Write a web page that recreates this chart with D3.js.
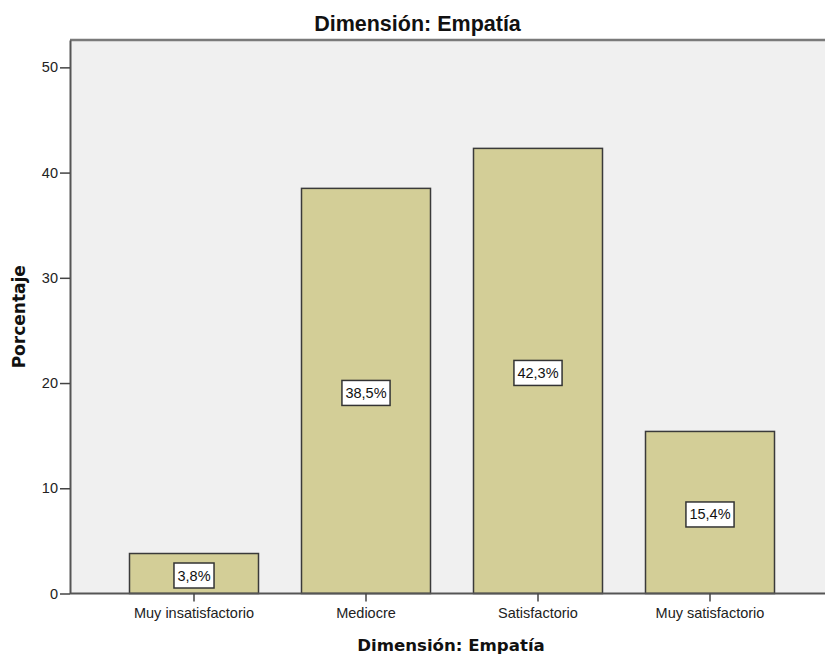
<!DOCTYPE html>
<html>
<head>
<meta charset="utf-8">
<script src="https://cdn.jsdelivr.net/npm/d3@7/dist/d3.min.js"></script>
<style>
  html, body { margin: 0; padding: 0; background: #ffffff; }
  svg { display: block; }
</style>
</head>
<body>
<svg id="chart" width="825" height="657"></svg>
<script>
// Percentage of responses per level, "Dimensión: Empatía"
const categories = ["Muy insatisfactorio", "Mediocre", "Satisfactorio", "Muy satisfactorio"];
const percentages = [3.8, 38.5, 42.3, 15.4];
const valueLabels = ["3,8%", "38,5%", "42,3%", "15,4%"];
const yTicks = [0, 10, 20, 30, 40, 50];

const chartTitle = "Dimensión: Empatía";
const xTitle = "Dimensión: Empatía";
const yTitle = "Porcentaje";

const svg = d3.select("#chart");

const plot = { left: 70, right: 834, top: 40, bottom: 593.5 };

const x = d3.scaleBand()
  .domain(categories)
  .range([108, 796])
  .paddingInner(0.25)
  .paddingOuter(0.125);

const y = d3.scaleLinear()
  .domain([0, 52.6])
  .range([plot.bottom, plot.top]);

// plot background
svg.append("rect")
  .attr("x", plot.left)
  .attr("y", plot.top)
  .attr("width", plot.right - plot.left)
  .attr("height", plot.bottom - plot.top)
  .attr("fill", "#f0f0f0");

// top frame line
svg.append("line")
  .attr("x1", plot.left).attr("x2", plot.right)
  .attr("y1", plot.top).attr("y2", plot.top)
  .attr("stroke", "#7a7a7a")
  .attr("stroke-width", 2.5);

// bars
const bars = svg.append("g");
bars.selectAll("rect")
  .data(categories)
  .join("rect")
  .attr("x", d => x(d))
  .attr("y", (d, i) => y(percentages[i]))
  .attr("width", x.bandwidth())
  .attr("height", (d, i) => y(0) - y(percentages[i]))
  .attr("fill", "#d3ce97")
  .attr("stroke", "#3a3a3a")
  .attr("stroke-width", 1.5);

// value labels in white boxes at mid-height of each bar
const labelFont = "14.5px 'Liberation Sans', Arial, sans-serif";
const labels = svg.append("g");
categories.forEach((c, i) => {
  const cx = x(c) + x.bandwidth() / 2;
  const cy = (y(percentages[i]) + y(0)) / 2 + 2;
  const g = labels.append("g");
  const t = g.append("text")
    .attr("x", cx)
    .attr("y", cy + 5)
    .attr("text-anchor", "middle")
    .style("font", labelFont)
    .attr("fill", "#111")
    .text(valueLabels[i]);
  const w = t.node().getComputedTextLength();
  g.insert("rect", "text")
    .attr("x", cx - w / 2 - 3.5)
    .attr("y", cy - 12.5)
    .attr("width", w + 7)
    .attr("height", 25)
    .attr("fill", "#ffffff")
    .attr("stroke", "#333")
    .attr("stroke-width", 1.5);
});

// y axis
const yAxis = svg.append("g")
  .attr("transform", `translate(${plot.left},0)`)
  .call(d3.axisLeft(y).tickValues(yTicks).tickSize(10).tickSizeOuter(0).tickPadding(2).tickFormat(d3.format("d")));
yAxis.select(".domain").attr("stroke", "#555").attr("stroke-width", 2);
yAxis.selectAll(".tick line").attr("stroke", "#444").attr("stroke-width", 1.5);
yAxis.selectAll(".tick text")
  .style("font", "14.5px 'Liberation Sans', Arial, sans-serif")
  .attr("fill", "#222");

// x axis
const xAxis = svg.append("g")
  .attr("transform", `translate(0,${plot.bottom})`)
  .call(d3.axisBottom(x).tickSize(8).tickPadding(6).tickSizeOuter(0));
xAxis.select(".domain")
  .attr("d", `M${plot.left},0H${plot.right}`)
  .attr("stroke", "#555").attr("stroke-width", 2);
xAxis.selectAll(".tick line").attr("stroke", "#444").attr("stroke-width", 1.5);
xAxis.selectAll(".tick text")
  .style("font", "14.5px 'Liberation Sans', Arial, sans-serif")
  .attr("fill", "#222");

// chart title
svg.append("text")
  .attr("x", 417.5)
  .attr("y", 31)
  .attr("text-anchor", "middle")
  .style("font", "bold 21.5px 'Liberation Sans', Arial, sans-serif")
  .attr("fill", "#111")
  .text(chartTitle);

// x axis title
svg.append("text")
  .attr("x", 451)
  .attr("y", 651)
  .attr("text-anchor", "middle")
  .style("font", "bold 16.6px 'DejaVu Sans', sans-serif")
  .attr("fill", "#111")
  .text(xTitle);

// y axis title
svg.append("text")
  .attr("transform", `translate(25,${(plot.top + plot.bottom) / 2}) rotate(-90)`)
  .attr("text-anchor", "middle")
  .style("font", "bold 17px 'DejaVu Sans', sans-serif")
  .attr("fill", "#111")
  .text(yTitle);
</script>
</body>
</html>
